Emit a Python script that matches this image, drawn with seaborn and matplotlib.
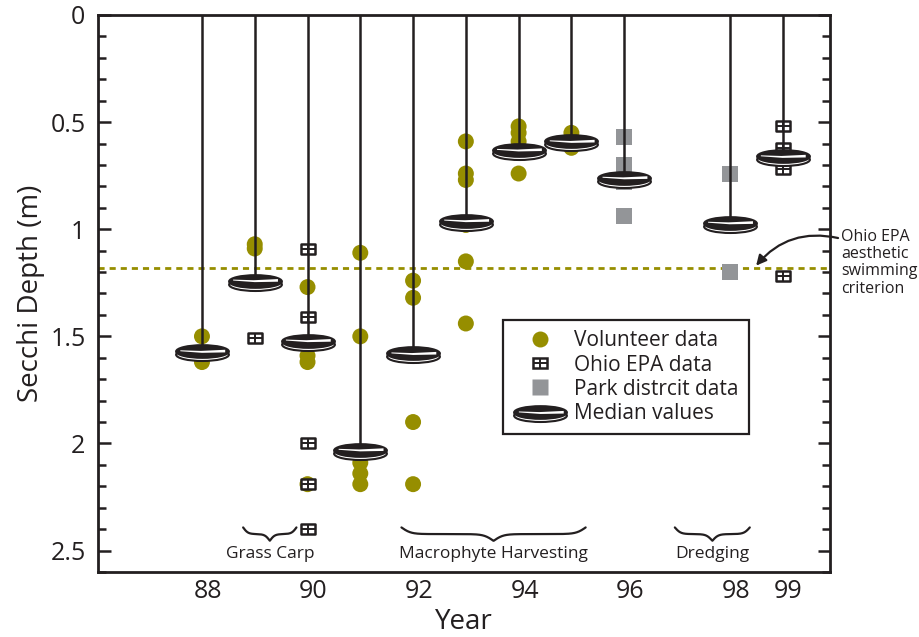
import numpy as np
import pandas as pd
import matplotlib
matplotlib.use("Agg")
import matplotlib.pyplot as plt
import seaborn as sns
from matplotlib.markers import MarkerStyle
from matplotlib.transforms import Affine2D, ScaledTranslation
from matplotlib.path import Path
from matplotlib.lines import Line2D
from matplotlib.legend_handler import HandlerTuple
from matplotlib.ticker import MultipleLocator, FixedLocator, FixedFormatter

# ---------------- data ----------------
vol_year = [88, 88, 89, 89, 90, 90, 90, 90, 91, 91, 91, 91, 91,
            92, 92, 92, 92, 93, 93, 93, 93, 93, 93, 94, 94, 94, 94, 95, 95]
vol_depth = [1.50, 1.62, 1.07, 1.09, 1.27, 1.59, 1.62, 2.19, 1.11, 1.50, 2.09, 2.14, 2.19,
             1.24, 1.32, 1.90, 2.19, 0.59, 0.74, 0.77, 0.98, 1.15, 1.44, 0.52, 0.55, 0.59, 0.74,
             0.55, 0.62]
epa_year = [89, 90, 90, 90, 90, 90, 99, 99, 99, 99]
epa_depth = [1.51, 1.09, 1.41, 2.00, 2.19, 2.40, 0.52, 0.62, 0.72, 1.22]
park_year = [96, 96, 96, 96, 98, 98]
park_depth = [0.57, 0.70, 0.78, 0.94, 0.74, 1.20]
median_year = [88, 89, 90, 91, 92, 93, 94, 95, 96, 98, 99]
median_depth = [1.57, 1.24, 1.52, 2.03, 1.58, 0.96, 0.63, 0.59, 0.76, 0.97, 0.66]
criterion = 1.18
x_ticks = [88, 90, 92, 94, 96, 98, 99]
y_ticks = [0, 0.5, 1, 1.5, 2, 2.5]
y_tick_labels = ["0", "0.5", "1", "1.5", "2", "2.5"]
legend_labels = ["Volunteer data", "Ohio EPA data", "Park distrcit data", "Median values"]
periods = ["Grass Carp", "Macrophyte Harvesting", "Dredging"]
period_start = [88.78, 91.78, 96.96]
period_end = [89.79, 95.27, 98.38]

vol = pd.DataFrame({"year": vol_year, "depth": vol_depth})
epa = pd.DataFrame({"year": epa_year, "depth": epa_depth})
park = pd.DataFrame({"year": park_year, "depth": park_depth})
med = pd.DataFrame({"year": median_year, "depth": median_depth})

# ---------------- style ----------------
sns.set_theme(style="ticks")
plt.rcParams["font.family"] = ["Open Sans", "DejaVu Sans"]
INK = "#231f20"
OLIVE = "#968e00"
GRAY = "#939598"
plt.rcParams["text.color"] = INK
plt.rcParams["axes.labelcolor"] = INK
plt.rcParams["xtick.color"] = INK
plt.rcParams["ytick.color"] = INK

fig = plt.figure(figsize=(9.19, 6.37), dpi=100)
ax = fig.add_axes([98 / 919, 1 - 572 / 637, 732 / 919, 557 / 637])

# markers
epa_box = MarkerStyle("s", transform=Affine2D().scale(1, 0.8))
epa_plus = MarkerStyle("+", transform=Affine2D().scale(1, 0.8))
SY = 0.24
puck_rim = MarkerStyle("o", transform=Affine2D().scale(1, SY).translate(0, -0.06))
puck_top = MarkerStyle("o", transform=Affine2D().scale(1, SY))
sv = np.array([(-0.41, 0.02), (-0.02, 0.008), (0.44, 0.03), (0.44, -0.02),
               (0.0, -0.028), (-0.41, 0.002), (-0.41, 0.02)])
m = np.abs(sv).max()
puck_stripe = MarkerStyle(Path(sv, closed=True), transform=Affine2D().scale(m / 0.5))

PUCK = 38
# criterion line
ax.axhline(criterion, color=OLIVE, lw=2.0, dashes=(2.2, 1.8), zorder=1)

sns.scatterplot(data=vol, x="year", y="depth", ax=ax, color=OLIVE, s=11.5 ** 2,
                marker="o", linewidth=0, edgecolor="none", zorder=2, legend=False)
sns.scatterplot(data=park, x="year", y="depth", ax=ax, color=GRAY, s=11.5 ** 2,
                marker="s", linewidth=0, edgecolor="none", zorder=2, legend=False)
sns.scatterplot(data=epa, x="year", y="depth", ax=ax, color="white", s=9.5 ** 2,
                marker=epa_box, linewidth=1.8, edgecolor=INK, zorder=3, legend=False)
sns.scatterplot(data=epa, x="year", y="depth", ax=ax, color=INK, s=9.5 ** 2,
                marker=epa_plus, linewidth=1.4, zorder=3, legend=False)

ax.vlines(med["year"], 0, med["depth"], color=INK, lw=1.8, zorder=4)

sns.scatterplot(data=med, x="year", y="depth", ax=ax, color="white", s=PUCK ** 2,
                marker=puck_rim, linewidth=1.5, edgecolor=INK, zorder=5, legend=False)
sns.scatterplot(data=med, x="year", y="depth", ax=ax, color=INK, s=PUCK ** 2,
                marker=puck_top, linewidth=1.5, edgecolor=INK, zorder=6, legend=False)
sns.scatterplot(data=med, x="year", y="depth", ax=ax, color="white", s=PUCK ** 2,
                marker=puck_stripe, linewidth=0, edgecolor="none", zorder=7, legend=False)

# axes
ax.set_xlim(86.03, 99.9)
ax.set_ylim(2.6, 0)
ax.xaxis.set_major_locator(FixedLocator(x_ticks))
ax.set_xticklabels([str(t) for t in x_ticks])
ax.yaxis.set_major_locator(FixedLocator(y_ticks))
ax.yaxis.set_major_formatter(FixedFormatter(y_tick_labels))
ax.yaxis.set_minor_locator(MultipleLocator(0.1))
ax.tick_params(axis="x", length=0, labelsize=18, pad=5)
ax.tick_params(axis="y", which="major", direction="in", length=9, width=1.8,
               labelsize=18, pad=9, left=True, right=True)
ax.tick_params(axis="y", which="minor", direction="in", length=5.5, width=1.8,
               left=True, right=True)
for sp in ax.spines.values():
    sp.set_visible(True)
    sp.set_linewidth(2.0)
    sp.set_color(INK)
off = ScaledTranslation(0.06, 0, fig.dpi_scale_trans)
for lab in ax.get_xticklabels():
    lab.set_transform(lab.get_transform() + off)
ax.set_xlabel("Year", fontsize=20, labelpad=3)
ax.set_ylabel("Secchi Depth (m)", fontsize=20, labelpad=4)

# period braces
def brace(x0, x1, v_end, h, beta):
    xs = np.linspace(x0, x1, 400)
    half = xs[:200]
    yh = 1 / (1 + np.exp(-beta * (half - half[0]))) + 1 / (1 + np.exp(-beta * (half - half[-1])))
    yf = np.concatenate((yh, yh[::-1]))
    return xs, v_end + h * (yf - 0.5)

for name, a, b in zip(periods, period_start, period_end):
    w = b - a
    bx, by = brace(a, b, 2.392, 0.062, 22 / max(w, 1) ** 0.55)
    ax.plot(bx, by, color=INK, lw=1.6, zorder=3)
    ax.text((a + b) / 2, 2.515, name, ha="center", va="center", fontsize=12.5, color=INK)

# criterion annotation
ax.annotate("", xy=(98.5, 1.17), xycoords="data", xytext=(1.011, 0.5996),
            textcoords="axes fraction", annotation_clip=False,
            arrowprops=dict(arrowstyle="-|>", color=INK, lw=1.6, mutation_scale=15,
                            connectionstyle="arc3,rad=0.3", shrinkA=0, shrinkB=0))
fig.text(841 / 919, 1 - 229 / 637, "Ohio EPA\naesthetic\nswimming\ncriterion",
         ha="left", va="top", fontsize=11.5, linespacing=1.1, color=INK)

# legend
h_vol = Line2D([], [], ls="", marker="o", ms=11.5, mfc=OLIVE, mec="none")
h_epa = (Line2D([], [], ls="", marker=epa_box, ms=9.5, mfc="white", mec=INK, mew=1.8),
         Line2D([], [], ls="", marker=epa_plus, ms=9.5, mec=INK, mew=1.4))
h_park = Line2D([], [], ls="", marker="s", ms=11.5, mfc=GRAY, mec="none")
h_med = (Line2D([], [], ls="", marker=puck_rim, ms=PUCK, mfc="white", mec=INK, mew=1.5),
         Line2D([], [], ls="", marker=puck_top, ms=PUCK, mfc=INK, mec=INK, mew=1.5),
         Line2D([], [], ls="", marker=puck_stripe, ms=PUCK, mfc="white", mec="none"))
leg = ax.legend([h_vol, h_epa, h_park, h_med], legend_labels,
                handler_map={tuple: HandlerTuple(ndivide=1, pad=0)},
                loc="upper left", bbox_to_anchor=(0.553, 0.4524), fontsize=15,
                frameon=True, fancybox=False, edgecolor=INK, framealpha=1,
                handlelength=2.6, handletextpad=0.3, labelspacing=0.15,
                borderpad=0.5, borderaxespad=0)
leg.get_frame().set_linewidth(1.6)
leg.set_zorder(10)

fig.savefig("out.png", dpi=100)
